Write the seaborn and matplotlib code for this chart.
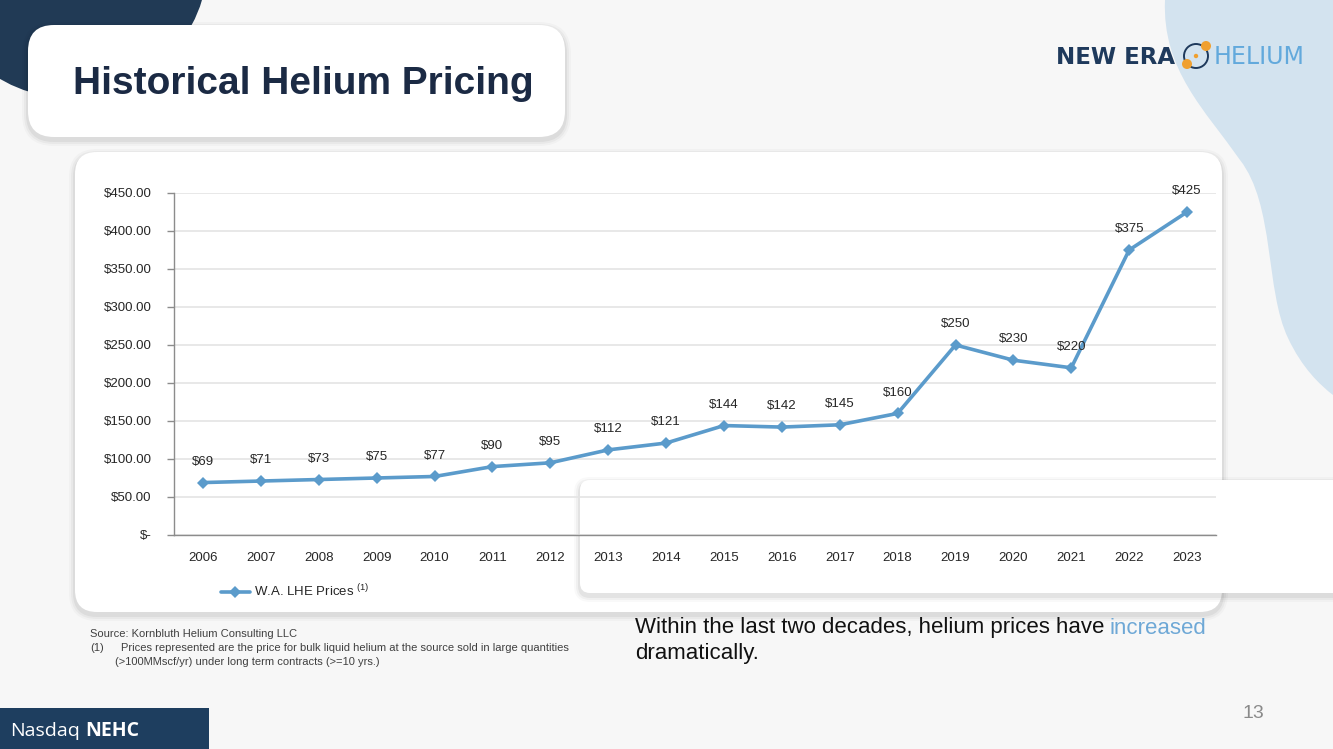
import numpy as np
import pandas as pd
import matplotlib.pyplot as plt
import seaborn as sns
from matplotlib.patches import FancyBboxPatch, Circle, Rectangle, PathPatch
from matplotlib.path import Path
from matplotlib.ticker import FuncFormatter, MultipleLocator, FixedLocator

# Data
years = ['2006', '2007', '2008', '2009', '2010', '2011', '2012', '2013', '2014',
         '2015', '2016', '2017', '2018', '2019', '2020', '2021', '2022', '2023']
prices = [69, 71, 73, 75, 77, 90, 95, 112, 121, 144, 142, 145, 160, 250, 230, 220, 375, 425]
series_name = 'W.A. LHE Prices'

df = pd.DataFrame({'year': years, 'price': prices})

sns.set_style('white')
plt.rcParams['font.family'] = ['Liberation Sans', 'DejaVu Sans']
plt.rcParams['mathtext.fontset'] = 'custom'
plt.rcParams['mathtext.rm'] = 'Liberation Sans'

W, H = 1333, 749
LINE = '#5b9bcb'

fig = plt.figure(figsize=(W / 100, H / 100), dpi=100)
fig.patch.set_facecolor('#f7f7f7')

# background decorations in pixel coords
bg = fig.add_axes([0, 0, 1, 1], zorder=0)
bg.set_xlim(0, W)
bg.set_ylim(H, 0)
bg.axis('off')

# light blue blob on the right
verts = [(1165, 0), (1162, 70), (1205, 110), (1240, 160),
         (1275, 205), (1265, 290), (1288, 338),
         (1302, 368), (1320, 385), (1333, 395),
         (1333, 0), (1165, 0)]
codes = [Path.MOVETO, Path.CURVE4, Path.CURVE4, Path.CURVE4,
         Path.CURVE4, Path.CURVE4, Path.CURVE4,
         Path.CURVE4, Path.CURVE4, Path.CURVE4,
         Path.LINETO, Path.CLOSEPOLY]
bg.add_patch(PathPatch(Path(verts, codes), facecolor='#d3e3ef', edgecolor='none'))

# navy circle top-left
bg.add_patch(Circle((70, -40), 138, facecolor='#213a55', edgecolor='none'))


def card(x, y, w, h, r):
    for k, a in [(6, 0.025), (4, 0.035), (2, 0.05)]:
        bg.add_patch(FancyBboxPatch((x - k, y - k + 3), w + 2 * k, h + 2 * k,
                                    boxstyle=f'round,pad=0,rounding_size={r + k}',
                                    facecolor='black', edgecolor='none', alpha=a))
    bg.add_patch(FancyBboxPatch((x, y), w, h, boxstyle=f'round,pad=0,rounding_size={r}',
                                facecolor='white', edgecolor='none'))


card(28, 25, 537, 112, 26)
bg.text(73, 84, 'Historical Helium Pricing', fontsize=28, fontweight='bold',
        color='#1b2a44', ha='left', va='center')

card(75, 152, 1147, 460, 22)
card(580, 480, 780, 113, 10)

# logo
bg.text(1056, 57, 'NEW ERA', fontsize=16.5, fontweight='heavy', color='#1f3a5c',
        family='DejaVu Sans', ha='left', va='center')
bg.add_patch(Circle((1196, 56), 12, facecolor='none', edgecolor='#1f3a5c', lw=1.4))
bg.add_patch(Circle((1187, 64), 5, facecolor='#f0a030', edgecolor='none'))
bg.add_patch(Circle((1206, 46), 5, facecolor='#f0a030', edgecolor='none'))
bg.add_patch(Circle((1196, 56), 2.2, facecolor='#f0a030', edgecolor='none'))
bg.text(1214, 57, 'HELIUM', fontsize=17, color='#62a9dc', family='DejaVu Sans',
        ha='left', va='center')

# footnotes
bg.text(90, 634, 'Source: Kornbluth Helium Consulting LLC', fontsize=8, color='#404040',
        va='center')
bg.text(90, 648, '(1)', fontsize=8, color='#404040', va='center')
bg.text(121, 648, 'Prices represented are the price for bulk liquid helium at the source sold in large quantities',
        fontsize=8, color='#404040', va='center')
bg.text(115, 662, '(>100MMscf/yr) under long term contracts (>=10 yrs.)', fontsize=8,
        color='#404040', va='center')

t1 = bg.text(635, 628, 'Within the last two decades, helium prices have', fontsize=16,
             color='#111111', va='center')
bg.annotate('increased', xy=(1, 0.5), xycoords=t1, xytext=(4, 0), textcoords='offset points',
            fontsize=16, color='#6ea8d6', va='center', ha='left')
bg.text(635, 653, 'dramatically.', fontsize=16, color='#111111', va='center')

# footer
bg.add_patch(Rectangle((0, 708), 209, 41, facecolor='#1e3e5f', edgecolor='none'))
t2 = bg.text(10, 731, 'Nasdaq', fontsize=14, color='white', family='Open Sans', va='center')
bg.annotate('NEHC', xy=(1, 0.5), xycoords=t2, xytext=(4, 0), textcoords='offset points',
            fontsize=14, color='white', family='Open Sans', fontweight='bold', va='center')
bg.text(1253, 713, '13', fontsize=14, color='#8a8a8a', ha='center', va='center')

# chart
ax = fig.add_axes([174 / W, 1 - 535 / H, (1216 - 174) / W, (535 - 193) / H], zorder=2)
ax.patch.set_alpha(0)

sns.lineplot(data=df, x='year', y='price', sort=False, ax=ax, color=LINE, lw=2.6,
             marker='D', markersize=6.5, markeredgewidth=0,
             label=series_name + r' $^{\rm (1)}$')

ax.set_xlim(-0.5, len(years) - 0.5)
ax.set_ylim(0, 450)
ax.yaxis.set_major_locator(MultipleLocator(50))
ax.yaxis.set_major_formatter(FuncFormatter(lambda v, p: '$-' if v == 0 else f'${v:,.2f}'))
ax.xaxis.set_minor_locator(FixedLocator(np.arange(-0.5, len(years), 1.0)))
ax.tick_params(axis='x', which='major', length=0, pad=12, labelsize=9.5, labelcolor='#262626')
ax.tick_params(axis='x', which='minor', length=5, width=1, color='#8c8c8c', direction='out')
ax.tick_params(axis='y', length=5, width=1, color='#8c8c8c', pad=11, labelsize=9.5,
               labelcolor='#262626', left=True)
ax.yaxis.grid(True, color='#e4e4e4', lw=1.2)
ax.set_axisbelow(True)
for s in ['top', 'right']:
    ax.spines[s].set_visible(False)
for s in ['left', 'bottom']:
    ax.spines[s].set_color('#8c8c8c')
    ax.spines[s].set_linewidth(1)
ax.set_xlabel('')
ax.set_ylabel('')

for i, v in enumerate(prices):
    ax.annotate(f'${v}', (i, v), xytext=(0, 15), textcoords='offset points',
                ha='center', va='center', fontsize=9.5, color='#262626')

ax.legend(loc='center left', bbox_to_anchor=(0.045, -0.164), frameon=False, fontsize=9.5,
          borderpad=0, borderaxespad=0, handlelength=2.2, handletextpad=0.3)

fig.savefig('out.png', dpi=100, facecolor=fig.get_facecolor())
